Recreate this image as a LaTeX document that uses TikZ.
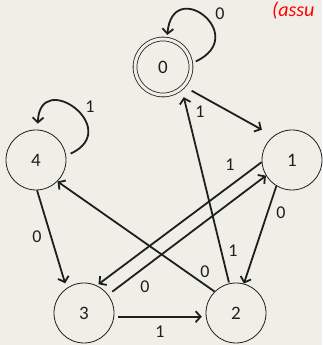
\documentclass[tikz,border=0pt]{standalone}
\usepackage{fontspec}
\setmainfont{Carlito}
\usetikzlibrary{arrows.meta,positioning,calc}
\definecolor{Paper}{HTML}{EFEFE7}
\definecolor{Ink}{HTML}{1E1E1E}
\definecolor{Note}{HTML}{FF0000}

\begin{document}
\begin{tikzpicture}[x=1pt,y=1pt,
    state/.style={draw=Ink,line width=0.8pt,circle,minimum size=60pt,inner sep=0pt,font=\fontsize{19}{21}\selectfont,text=Ink},
    edge/.style={-{Straight Barb[length=5pt,width=11pt]},line width=1.8pt,Ink},
    lbl/.style={font=\fontsize{18}{20}\selectfont,text=Ink,inner sep=0pt}]
        \fill[Paper] (0,0) rectangle (322,345);
        \useasboundingbox (0,0) rectangle (322,345);
        \node[anchor=base west,text=Note,inner sep=0pt,font=\fontsize{20}{22}\selectfont\itshape] (note) at (272,328) {(assu};
        \node[state,minimum size=56pt,double=Paper,double distance=3pt,line width=0.8pt] (n0) at (163,278) {0};
        \node[state] (n1) at (292,185) {1};
        \node[state] (n2) at (236,32) {2};
        \node[state] (n3) at (84,32) {3};
        \node[state] (n4) at (36,185) {4};
        \draw[edge,shorten <=5pt,shorten >=4pt] (n0.7) .. controls +(25:66) and +(85:64) .. (n0.82);
        \draw[edge,shorten <=5pt,shorten >=6pt] (n4.8) .. controls +(25:64) and +(88:62) .. (n4.87);
        \draw[edge,shorten <=9pt,shorten >=13pt] (n0.-43) -- (n1.128);
        \draw[edge,shorten <=1pt,shorten >=9pt] (n2.103) -- (n0.-49);
        \draw[edge] (n1.-121) -- (n2.75);
        \draw[edge,shorten >=2pt] (n1.-176) -- (n3.65);
        \draw[edge,shorten <=5pt] (n3.37) -- (n1.-149);
        \draw[edge] (n2.135) -- (n4.-45);
        \draw[edge,shorten >=5pt] (n4.-88) -- (n3.125);
        \draw[edge,shorten <=4pt,shorten >=4pt] (n3.-7) -- (n2.-173);
        % labels
        \node[lbl] (t00) at (220,331) {0};
        \node[lbl] (t44) at (90,238) {1};
        \node[lbl] (t01) at (200,233) {1};
        \node[lbl] (t20) at (233,94) {1};
        \node[lbl] (t12) at (281,132) {0};
        \node[lbl] (t13) at (230,180) {1};
        \node[lbl] (t31) at (145,58) {0};
        \node[lbl] (t24) at (205,73) {0};
        \node[lbl] (t43) at (37,108) {0};
        \node[lbl] (t32) at (160,13) {1};
      \end{tikzpicture}
\end{document}
